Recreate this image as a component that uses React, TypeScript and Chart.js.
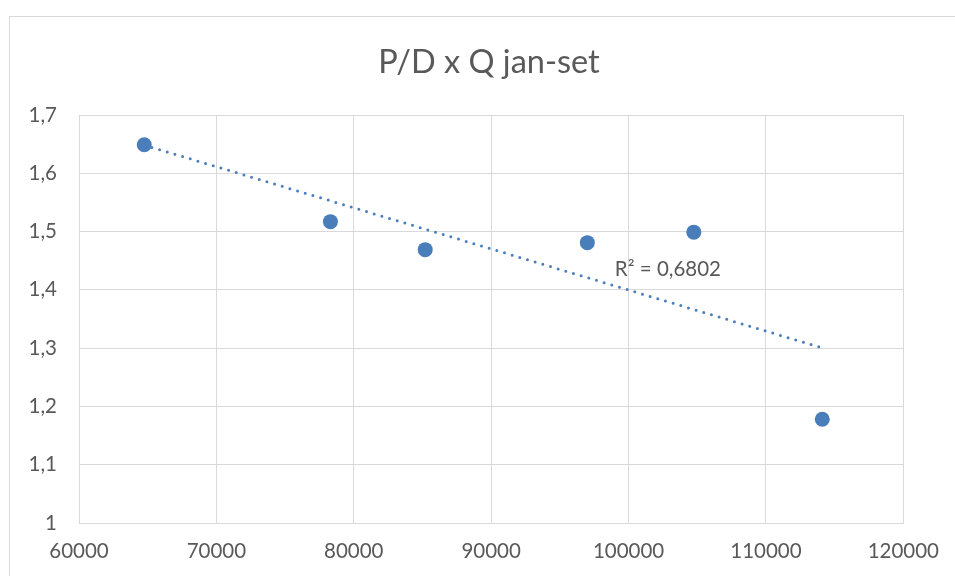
import React, { useEffect, useRef } from "react";
import { Chart, registerables } from "chart.js";

Chart.register(...registerables);

const TITLE = "P/D x Q jan-set";
const qValues = [64750, 78300, 85200, 97000, 104750, 114100];
const pdValues = [1.649, 1.517, 1.469, 1.481, 1.499, 1.178];
const X_MIN = 60000;
const X_MAX = 120000;
const X_STEP = 10000;
const Y_MIN = 1;
const Y_MAX = 1.7;
const Y_STEP = 0.1;
const R2_LABEL = "R² = 0,6802";
const R2_ANCHOR = { x: 99000, y: 1.435 };

const FONT = "Lato, 'Open Sans', sans-serif";
const TEXT = "#595959";
const GRID = "#d9d9d9";
const BLUE = "#4A7EBB";

function regression(xs: number[], ys: number[]) {
  const n = xs.length;
  const mx = xs.reduce((a, b) => a + b, 0) / n;
  const my = ys.reduce((a, b) => a + b, 0) / n;
  let sxy = 0, sxx = 0;
  for (let i = 0; i < n; i++) {
    sxy += (xs[i] - mx) * (ys[i] - my);
    sxx += (xs[i] - mx) ** 2;
  }
  const slope = sxy / sxx;
  return { slope, intercept: my - slope * mx };
}

export default function App() {
  const ref = useRef<HTMLCanvasElement | null>(null);
  useEffect(() => {
    if (!ref.current) return;
    const { slope, intercept } = regression(qValues, pdValues);
    const xLo = Math.min(...qValues);
    const xHi = Math.max(...qValues);
    const trend = [
      { x: xLo, y: intercept + slope * xLo },
      { x: xHi, y: intercept + slope * xHi },
    ];
    const points = qValues.map((q, i) => ({ x: q, y: pdValues[i] }));

    const decor = {
      id: "decor",
      beforeDraw(chart: any) {
        const ctx = chart.ctx;
        ctx.save();
        ctx.fillStyle = "#ffffff";
        ctx.fillRect(0, 0, chart.width, chart.height);
        ctx.strokeStyle = GRID;
        ctx.lineWidth = 1;
        ctx.strokeRect(9.5, 16.5, chart.width + 20, chart.height + 20);
        ctx.restore();
      },
      afterDatasetsDraw(chart: any) {
        const ctx = chart.ctx;
        const xs = chart.scales.x;
        const ys = chart.scales.y;
        ctx.save();
        ctx.fillStyle = TEXT;
        ctx.font = `32.5px ${FONT}`;
        ctx.textAlign = "center";
        ctx.textBaseline = "middle";
        ctx.fillText(TITLE, 489, 63);
        ctx.font = `20.5px ${FONT}`;
        ctx.textAlign = "left";
        ctx.fillText(R2_LABEL, xs.getPixelForValue(R2_ANCHOR.x), ys.getPixelForValue(R2_ANCHOR.y));
        ctx.restore();
      },
    };

    const chart = new Chart(ref.current, {
      type: "scatter",
      data: {
        datasets: [
          {
            type: "scatter",
            data: points,
            backgroundColor: BLUE,
            borderColor: BLUE,
            pointRadius: 7.5,
            pointHoverRadius: 7.5,
            borderWidth: 0,
          } as any,
          {
            type: "line",
            data: trend,
            borderColor: BLUE,
            borderWidth: 3,
            borderDash: [0, 8],
            borderCapStyle: "round",
            pointRadius: 0,
            fill: false,
          } as any,
        ],
      },
      options: {
        responsive: false,
        animation: false,
        layout: { padding: { top: 115, right: 51, bottom: 0, left: 0 } },
        plugins: {
          legend: { display: false },
          tooltip: { enabled: false },
          title: { display: false },
        },
        scales: {
          x: {
            type: "linear",
            min: X_MIN,
            max: X_MAX,
            grid: { color: GRID, drawTicks: false, lineWidth: 1 },
            border: { color: GRID },
            afterFit: (s: any) => { s.height = 53; },
            ticks: {
              stepSize: X_STEP,
              color: TEXT,
              font: { family: FONT, size: 20.5 },
              padding: 16,
              maxRotation: 0,
              callback: (v: any) => String(v),
            },
          },
          y: {
            type: "linear",
            min: Y_MIN,
            max: Y_MAX,
            grid: { color: GRID, drawTicks: false, lineWidth: 1 },
            border: { color: GRID },
            afterFit: (s: any) => { s.width = 79; },
            ticks: {
              stepSize: Y_STEP,
              color: TEXT,
              font: { family: FONT, size: 20.5 },
              padding: 22,
              callback: (v: any) => String(Number(Number(v).toFixed(1))).replace(".", ","),
            },
          },
        },
      },
      plugins: [decor],
    } as any);
    return () => chart.destroy();
  }, []);

  return (
    <canvas
      ref={ref}
      width={955}
      height={576}
      style={{ position: "fixed", left: 0, top: 0, width: 955, height: 576 }}
    />
  );
}
